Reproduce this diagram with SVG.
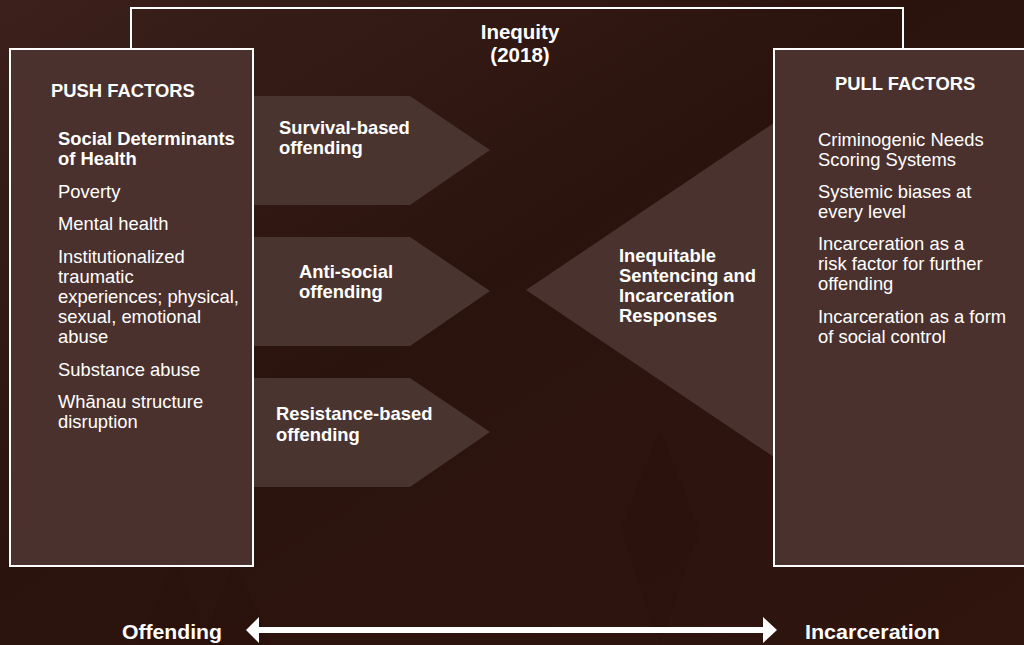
<svg xmlns="http://www.w3.org/2000/svg" width="1024" height="645" viewBox="0 0 1024 645">
<defs>
<linearGradient id="bg" x1="0" y1="0" x2="1" y2="1">
<stop offset="0" stop-color="#3b201b"/>
<stop offset="0.45" stop-color="#2b130d"/>
<stop offset="1" stop-color="#30150f"/>
</linearGradient>
<style>
.box{fill:#4b312d;stroke:#ffffff;stroke-width:2}
.chev{fill:#4a3430}
.tri{fill:#4a322e}
.t{font-family:"Liberation Sans",Arial,sans-serif;fill:#ffffff;font-size:18.4px}
.b{font-weight:bold}
.h{font-size:20.5px;font-weight:bold}
.n{font-family:"Liberation Sans Narrow","Liberation Sans",Arial,sans-serif;font-size:21px;font-weight:bold;fill:#ffffff}
.ln{fill:none;stroke:#ffffff;stroke-width:2}
</style>
</defs>
<rect x="0" y="0" width="1024" height="645" fill="url(#bg)"/>
<g opacity="0.12" fill="#1e0a06">
<polygon points="140,645 175,560 210,645"/>
<polygon points="200,645 235,560 270,645"/>
<polygon points="620,530 660,430 700,530 660,645"/>
<polygon points="900,560 960,360 1024,560"/>
</g>

<g id="bracket">
<path class="ln" d="M131,49 V8 H903 V49"/>
<text class="t h" x="520" y="39" text-anchor="middle">Inequity</text>
<text class="t h" x="520" y="62" text-anchor="middle">(2018)</text>
</g>

<g id="response-triangle">
<polygon class="tri" points="526,290 790,112 790,468"/>
<text class="t b" x="619" y="262">Inequitable</text>
<text class="t b" x="619" y="282">Sentencing and</text>
<text class="t b" x="619" y="302">Incarceration</text>
<text class="t b" x="619" y="322">Responses</text>
</g>

<g id="survival">
<polygon class="chev" points="252,96 410,96 490,150 410,205 252,205"/>
<text class="t b" x="279" y="134">Survival-based</text>
<text class="t b" x="279" y="154">offending</text>
</g>
<g id="antisocial">
<polygon class="chev" points="252,237 410,237 490,291 410,346 252,346"/>
<text class="t b" x="299" y="278">Anti-social</text>
<text class="t b" x="299" y="298">offending</text>
</g>
<g id="resistance">
<polygon class="chev" points="252,378 410,378 490,432 410,487 252,487"/>
<text class="t b" x="276" y="420">Resistance-based</text>
<text class="t b" x="276" y="441">offending</text>
</g>

<g id="push-factors">
<rect class="box" x="10" y="49" width="243" height="517"/>
<text class="t b" x="51" y="97">PUSH FACTORS</text>
<text class="t b" x="58" y="145">Social Determinants</text>
<text class="t b" x="58" y="165">of Health</text>
<text class="t" x="58" y="198">Poverty</text>
<text class="t" x="58" y="230">Mental health</text>
<text class="t" x="58" y="263">Institutionalized</text>
<text class="t" x="58" y="283">traumatic</text>
<text class="t" x="58" y="303">experiences; physical,</text>
<text class="t" x="58" y="323">sexual, emotional</text>
<text class="t" x="58" y="343">abuse</text>
<text class="t" x="58" y="376">Substance abuse</text>
<text class="t" x="58" y="408">Whānau structure</text>
<text class="t" x="58" y="428">disruption</text>
</g>

<g id="pull-factors">
<rect class="box" x="774" y="49" width="260" height="517"/>
<text class="t b" x="835" y="90">PULL FACTORS</text>
<text class="t" x="818" y="146">Criminogenic Needs</text>
<text class="t" x="818" y="166">Scoring Systems</text>
<text class="t" x="818" y="198">Systemic biases at</text>
<text class="t" x="818" y="218">every level</text>
<text class="t" x="818" y="250">Incarceration as a</text>
<text class="t" x="818" y="270">risk factor for further</text>
<text class="t" x="818" y="290">offending</text>
<text class="t" x="818" y="323">Incarceration as a form</text>
<text class="t" x="818" y="343">of social control</text>
</g>

<g id="connectors">
<polygon fill="#ffffff" points="246,630 259,617 259,627 763,627 763,617 777,630 763,643 763,633 259,633 259,643"/>
</g>

<g id="axis-labels">
<text class="n" x="122" y="639" textLength="100" lengthAdjust="spacingAndGlyphs">Offending</text>
<text class="n" x="805" y="639" textLength="135" lengthAdjust="spacingAndGlyphs">Incarceration</text>
</g>
</svg>
